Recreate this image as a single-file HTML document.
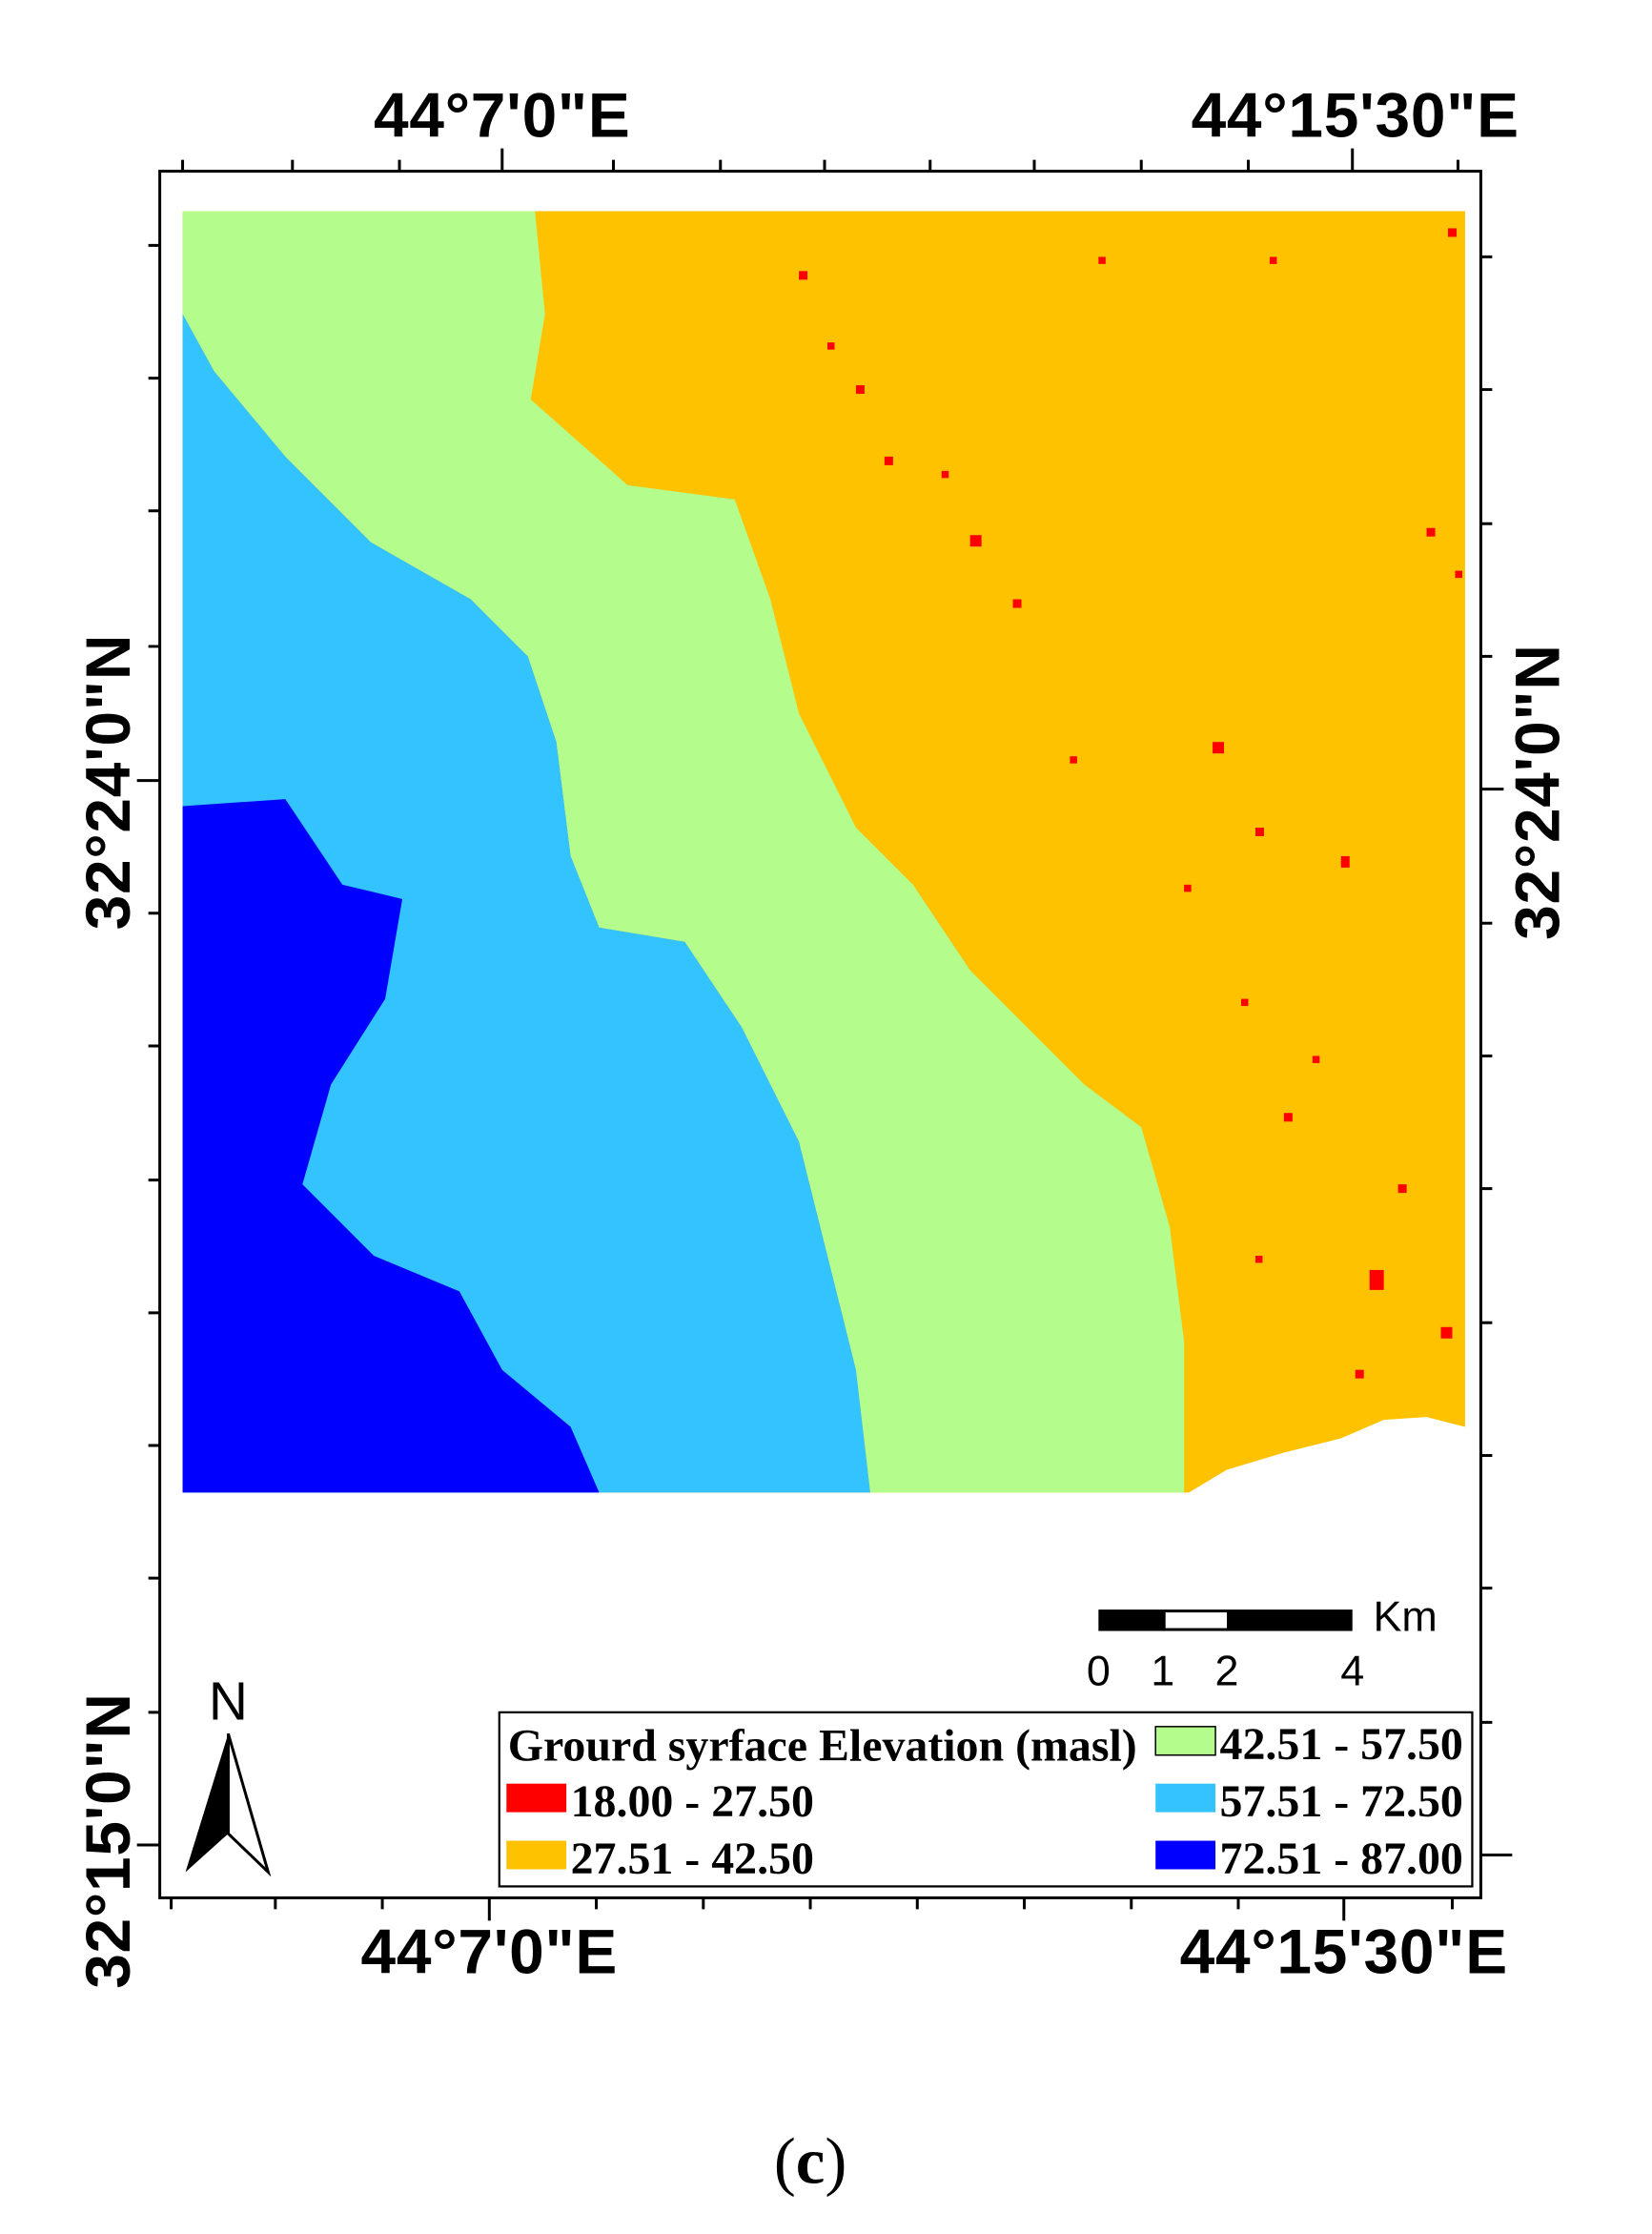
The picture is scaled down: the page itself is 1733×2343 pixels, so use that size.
<!DOCTYPE html>
<html><head><meta charset="utf-8"><style>html,body{margin:0;padding:0;background:#fff}svg{display:block}</style></head>
<body>
<svg width="1733" height="2343" viewBox="0 0 1158 1565.6" xmlns="http://www.w3.org/2000/svg">
<rect width="1158" height="1566" fill="#fff"/>
<rect x="128" y="148" width="899" height="898" fill="#ffc200"/>
<polygon fill="#b4fc8c" points="128,148 375,148 382,220 372,280 440,340 515,350 540,420 560,500 600,580 640,620 680,680 720,720 760,760 800,790 820,860 830,940 830,1046 610,1046 600,960 580,880 560,800 520,720 480,660 420,650 400,600 390,520 370,460 330,420 260,380 200,320 150,260 128,220"/>
<polygon fill="#33c3ff" points="128,220 150,260 200,320 260,380 330,420 370,460 390,520 400,600 420,650 480,660 520,720 560,800 580,880 600,960 610,1046 128,1046"/>
<polygon fill="#0000ff" points="128,565 200,560 240,620 282,630 270,700 232,760 212,830 262,880 322,905 352,960 400,1000 420,1046 128,1046"/>
<polygon fill="#ffffff" points="830,1048 860,1030 900,1018 940,1008 970,995 1000,993 1027,1000 1030,1048"/>
<g fill="#ff0000">
<rect x="600" y="270" width="6" height="6"/><rect x="620" y="320" width="6" height="6"/><rect x="680" y="375" width="8" height="8"/><rect x="710" y="420" width="6" height="6"/><rect x="560" y="190" width="6" height="6"/><rect x="770" y="180" width="5" height="5"/><rect x="850" y="520" width="8" height="8"/><rect x="880" y="580" width="6" height="6"/><rect x="940" y="600" width="6" height="8"/><rect x="960" y="890" width="10" height="14"/><rect x="1010" y="930" width="8" height="8"/><rect x="900" y="780" width="6" height="6"/><rect x="1000" y="370" width="6" height="6"/><rect x="870" y="700" width="5" height="5"/><rect x="980" y="830" width="6" height="6"/><rect x="750" y="530" width="5" height="5"/><rect x="830" y="620" width="5" height="5"/><rect x="1020" y="400" width="5" height="5"/><rect x="580" y="240" width="5" height="5"/><rect x="880" y="880" width="5" height="5"/><rect x="950" y="960" width="6" height="6"/><rect x="920" y="740" width="5" height="5"/><rect x="660" y="330" width="5" height="5"/><rect x="890" y="180" width="5" height="5"/><rect x="1015" y="160" width="6" height="6"/>
</g>
<rect x="112" y="120" width="926" height="1210" fill="none" stroke="#000" stroke-width="2"/>
<g stroke="#000" stroke-width="2">
<path d="M128 112V120M205 112V120M280 112V120M352 104V120M430 112V120M505 112V120M578 112V120M652 112V120M725 112V120M800 112V120M875 112V120M948 104V120M1022 112V120"/>
<path d="M120 1330V1338M193 1330V1338M268 1330V1338M343 1330V1346M418 1330V1338M493 1330V1338M568 1330V1338M643 1330V1338M718 1330V1338M793 1330V1338M868 1330V1338M942 1330V1346M1018 1330V1338"/>
<path d="M104 172H112M104 265H112M104 358H112M104 453H112M96 547H112M104 640H112M104 733H112M104 827H112M104 920H112M104 1013H112M104 1106H112M104 1200H112M96 1293H112"/>
<path d="M1038 180H1046M1038 273H1046M1038 367H1046M1038 460H1046M1038 553H1054M1038 647H1046M1038 740H1046M1038 833H1046M1038 927H1046M1038 1020H1046M1038 1113H1046M1038 1207H1046M1038 1300H1060"/>
</g>
<g font-family="Liberation Sans, Arial, sans-serif" font-weight="bold" font-size="44" text-anchor="middle" fill="#000" letter-spacing="0.5">
<text x="352" y="96">44°7'0"E</text>
<text x="950" y="96">44°15'30"E</text>
<text x="343" y="1383">44°7'0"E</text>
<text x="942" y="1383">44°15'30"E</text>
<text transform="translate(91,548) rotate(-90)">32°24'0"N</text>
<text transform="translate(91,1290) rotate(-90)">32°15'0"N</text>
<text transform="translate(1093,555) rotate(-90)">32°24'0"N</text>
</g>
<rect x="770" y="1128" width="178" height="15" fill="#000"/>
<rect x="817" y="1130" width="43" height="11" fill="#fff"/>
<g font-family="Liberation Sans, Arial, sans-serif" font-size="30" fill="#000" text-anchor="middle">
<text x="985" y="1143">Km</text>
<text x="770" y="1181">0</text><text x="815" y="1181">1</text><text x="860" y="1181">2</text><text x="948" y="1181">4</text>
<text x="160" y="1205" font-size="38">N</text>
</g>
<polygon points="160,1215 130,1312 160,1285" fill="#000"/>
<polygon points="160,1215 188,1312 160,1285" fill="#fff" stroke="#000" stroke-width="2"/>
<rect x="350" y="1200" width="682" height="122" fill="#fff" stroke="#000" stroke-width="1.5"/>
<g font-family="Liberation Serif, Times New Roman, serif" font-weight="bold" font-size="32" fill="#000">
<text x="356" y="1234">Grourd syrface Elevation (masl)</text>
<rect x="355" y="1250" width="42" height="20" fill="#ff0000"/><text x="400" y="1273">18.00 - 27.50</text>
<rect x="355" y="1290" width="42" height="20" fill="#ffc200"/><text x="400" y="1313">27.51 - 42.50</text>
<rect x="810" y="1210" width="42" height="20" fill="#b4fc8c" stroke="#000" stroke-width="1"/><text x="855" y="1233">42.51 - 57.50</text>
<rect x="810" y="1250" width="42" height="20" fill="#33c3ff"/><text x="855" y="1273">57.51 - 72.50</text>
<rect x="810" y="1290" width="42" height="20" fill="#0000ff"/><text x="855" y="1313">72.51 - 87.00</text>
</g>
<text x="568" y="1530" font-family="Liberation Serif, Times New Roman, serif" font-size="46" text-anchor="middle" fill="#000">(<tspan font-weight="bold">c</tspan>)</text>
</svg>
</body></html>
